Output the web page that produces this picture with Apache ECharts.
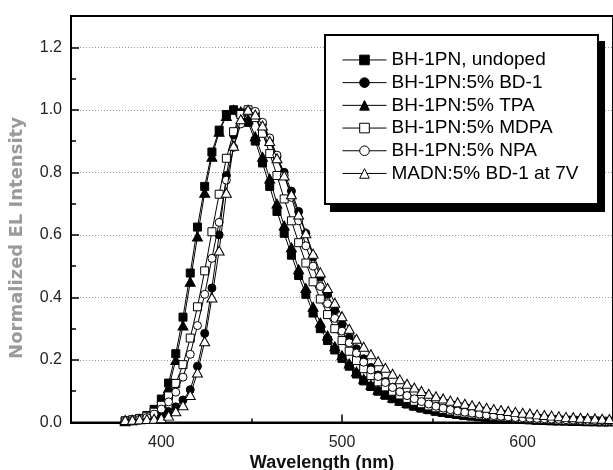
<!DOCTYPE html>
<html><head><meta charset="utf-8">
<script src="https://cdn.jsdelivr.net/npm/echarts@6/dist/echarts.min.js"></script>
<style>html,body{margin:0;padding:0;background:#fff}#c{width:613px;height:470px}</style>
</head><body><div id="c"></div>
<script>
const wavelengths = [380,384,388,392,396,400,404,408,412,416,420,424,428,432,436,440,444,448,452,456,460,464,468,472,476,480,484,488,492,496,500,504,508,512,516,520,524,528,532,536,540,544,548,552,556,560,564,568,572,576,580,584,588,592,596,600,604,608,612,616,620,624,628,632,636,640,644,648];
const undoped = [.005,.008,.013,.022,.042,.075,.126,.22,.337,.478,.625,.755,.865,.935,.985,1.0,.99,.96,.9,.83,.755,.675,.605,.535,.47,.41,.35,.3,.262,.232,.205,.18,.155,.133,.115,.1,.087,.076,.067,.059,.052,.046,.041,.036,.032,.029,.026,.023,.021,.019,.017,.015,.013,.012,.011,.01,.009,.008,.007,.006,.006,.005,.005,.004,.004,.003,.003,.003];
const bd1 = [.003,.005,.007,.01,.015,.023,.035,.05,.072,.105,.18,.285,.43,.6,.79,.92,.98,1.0,.99,.955,.905,.85,.8,.74,.675,.605,.53,.465,.41,.358,.313,.272,.236,.204,.176,.152,.131,.113,.098,.085,.074,.065,.057,.05,.044,.039,.035,.031,.028,.025,.023,.021,.019,.017,.015,.014,.013,.012,.011,.01,.009,.008,.008,.007,.006,.006,.005,.005];
const tpa = [.004,.007,.011,.018,.034,.062,.11,.2,.31,.45,.595,.735,.85,.93,.98,1.0,.995,.97,.915,.85,.78,.7,.63,.56,.49,.43,.37,.32,.278,.244,.215,.189,.163,.14,.121,.105,.092,.08,.07,.062,.055,.049,.043,.038,.034,.03,.027,.024,.022,.02,.018,.016,.014,.013,.012,.011,.01,.009,.008,.007,.006,.006,.005,.005,.004,.004,.003,.003];
const mdpa = [.005,.008,.012,.02,.033,.055,.085,.125,.185,.27,.37,.485,.61,.73,.845,.93,.985,1.0,.975,.925,.86,.79,.715,.645,.575,.51,.45,.395,.345,.3,.262,.228,.198,.172,.15,.13,.114,.1,.088,.077,.068,.06,.053,.047,.042,.037,.033,.03,.027,.024,.022,.02,.018,.016,.015,.013,.012,.011,.01,.009,.008,.007,.007,.006,.005,.005,.004,.004];
const npa = [.004,.006,.01,.016,.027,.043,.066,.097,.145,.218,.31,.41,.525,.64,.775,.88,.955,.995,.995,.96,.91,.855,.79,.72,.645,.565,.5,.435,.38,.333,.292,.255,.222,.193,.168,.147,.128,.112,.098,.086,.076,.067,.059,.052,.046,.041,.037,.033,.03,.027,.024,.022,.02,.018,.016,.015,.014,.013,.012,.011,.01,.009,.008,.007,.007,.006,.006,.005];
const madn = [.008,.009,.01,.011,.012,.014,.022,.036,.055,.088,.16,.26,.4,.55,.735,.885,.97,1.0,.985,.95,.9,.845,.79,.73,.665,.605,.54,.48,.43,.383,.34,.3,.268,.242,.218,.196,.175,.156,.138,.124,.112,.101,.092,.084,.077,.07,.065,.06,.055,.051,.047,.043,.04,.037,.034,.031,.029,.026,.024,.022,.02,.018,.017,.015,.014,.013,.012,.011];
const seriesNames = ['BH-1PN, undoped','BH-1PN:5% BD-1','BH-1PN:5% TPA','BH-1PN:5% MDPA','BH-1PN:5% NPA','MADN:5% BD-1 at 7V'];
const xTickLabels = [400,500,600];
const xMinorTicks = [450,550];
const yTickLabels = [0,0.2,0.4,0.6,0.8,1.0,1.2];
const yMinorTicks = [0.1,0.3,0.5,0.7,0.9,1.1];
const xTitle = 'Wavelength (nm)';
const yTitle = 'Normalized EL Intensity';

const values = [undoped, bd1, tpa, mdpa, npa, madn];
const symbols = ['rect','circle','triangle','rect','circle','triangle'];
const filled = [true,true,true,false,false,false];
const sizes = {rect:8, circle:8, triangle:[10,9]};

const chart = echarts.init(document.getElementById('c'), null, {renderer:'canvas'});
const series = seriesNames.map((n,i)=>({
  type:'line', name:n, xAxisIndex:0, yAxisIndex:0,
  data: wavelengths.map((w,j)=>[w, values[i][j]]),
  symbol: symbols[i], symbolSize: sizes[symbols[i]], showAllSymbol:true,
  lineStyle:{color:'#000', width:1},
  itemStyle:{color: filled[i]?'#000':'#fff', borderColor:'#000', borderWidth:1},
  emphasis:{disabled:true}, animation:false, z: 2+i
}));

const axisFont = {fontSize:16, color:'#222', fontFamily:'Liberation Sans, Arial, sans-serif'};
chart.setOption({
  backgroundColor:'#fff',
  animation:false,
  grid:{left:71, top:16, right:-4, bottom:47.5, show:true, borderColor:'#000', borderWidth:2, backgroundColor:'transparent'},
  xAxis:[
    {type:'value', min:350, max:650, position:'bottom',
     axisLine:{lineStyle:{color:'#000', width:2}},
     axisTick:{inside:true, length:8, customValues:xTickLabels, lineStyle:{color:'#000', width:1.5}},
     axisLabel:Object.assign({customValues:xTickLabels, margin:12}, axisFont),
     splitLine:{show:false}},
    {type:'value', min:350, max:650, position:'bottom',
     axisLine:{show:false},
     axisTick:{inside:true, length:4, customValues:xMinorTicks, lineStyle:{color:'#000', width:1.5}},
     axisLabel:{show:false}, splitLine:{show:false}}
  ],
  yAxis:[
    {type:'value', min:0, max:1.3, interval:0.2, position:'left',
     axisLine:{lineStyle:{color:'#000', width:2}},
     axisTick:{inside:true, length:8, customValues:yTickLabels, lineStyle:{color:'#000', width:1.5}},
     axisLabel:Object.assign({customValues:yTickLabels, margin:9, formatter:v=>v.toFixed(1)}, axisFont),
     splitLine:{show:true, lineStyle:{type:[1,2], color:'#999', width:1}}},
    {type:'value', min:0, max:1.3, position:'left',
     axisLine:{show:false},
     axisTick:{inside:true, length:5, customValues:yMinorTicks, lineStyle:{color:'#000', width:1.5}},
     axisLabel:{show:false}, splitLine:{show:false}}
  ],
  legend:{orient:'vertical', left:342, top:48.6, padding:0, itemGap:0, itemWidth:44, itemHeight:12,
    selectedMode:false, z:10, data:seriesNames,
    textStyle:{fontSize:19, lineHeight:22.7, color:'#000', fontFamily:'Liberation Sans, Arial, sans-serif'},
    itemStyle:{borderWidth:1}, lineStyle:{width:1, color:'#000'}},
  graphic:[
    {type:'rect', z:5, shape:{x:330, y:41, width:275, height:171}, style:{fill:'#000'}},
    {type:'rect', z:6, shape:{x:325, y:35, width:273, height:169}, style:{fill:'#fff', stroke:'#000', lineWidth:2}},
    {type:'text', z:6, x:322, y:463, style:{text:xTitle, fontSize:18, fontWeight:'bold', fontFamily:'Liberation Sans, Arial, sans-serif', fill:'#111', align:'center', verticalAlign:'middle', textAlign:'center', textVerticalAlign:'middle'}},
    {type:'text', z:6, x:17.5, y:238, rotation:Math.PI/2, style:{text:yTitle, fontSize:18, fontWeight:'bold', fontFamily:'DejaVu Sans, sans-serif', fill:'#9a9a9a', align:'center', verticalAlign:'middle', textAlign:'center', textVerticalAlign:'middle'}}
  ],
  series: series
});
</script></body></html>
